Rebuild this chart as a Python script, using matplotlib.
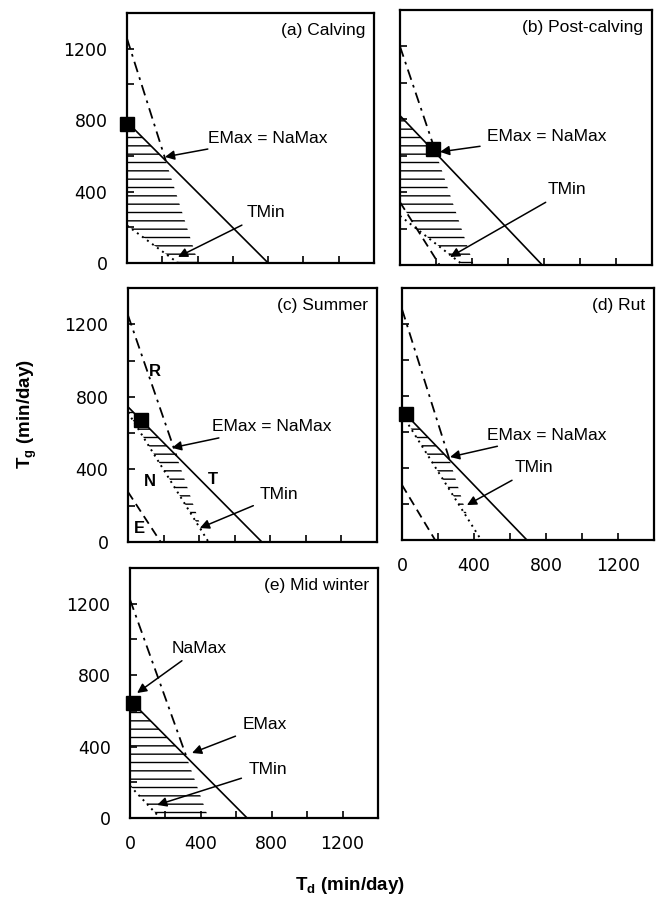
import numpy as np
import matplotlib
matplotlib.use("Agg")
import matplotlib.pyplot as plt

plt.rcParams['font.family'] = ['Liberation Sans', 'DejaVu Sans']
plt.rcParams['mathtext.fontset'] = 'custom'
plt.rcParams['mathtext.rm'] = 'Liberation Sans:bold'
plt.rcParams['mathtext.bf'] = 'Liberation Sans:bold'
plt.rcParams['hatch.linewidth'] = 1.0

# panel titles
titles = ['(a) Calving', '(b) Post-calving', '(c) Summer', '(d) Rut', '(e) Mid winter']

# constraint lines, given as (Tg intercept, Td intercept) in min/day
T_line = [(790, 800), (820, 790), (745, 753), (720, 694), (660, 661)]     # solid
R_line = [(1257, 404), (1200, 410), (1250, 440), (1283, 405), (1223, 443)]  # dash-dot
N_line = [(210, 290), (270, 350), (714, 453), (698, 440), (180, 170)]     # dotted
E_line = [None, (345, 220), (276, 184), (306, 184), None]                 # dashed

# NaMax square (Td, Tg)
sq_td = [0, 183, 75, 20, 15]
sq_tg = [780, 637, 670, 700, 645]

# annotations: text, text position, arrow tip
ann = [
    [("EMax = NaMax", (459, 700), (215, 594)), ("TMin", (680, 280), (289, 34))],
    [("EMax = NaMax", (483, 703), (222, 621)), ("TMin", (822, 412), (278, 44))],
    [("EMax = NaMax", (472, 635), (247, 519)), ("TMin", (742, 260), (404, 77))],
    [("EMax = NaMax", (472, 583), (267, 461)), ("TMin", (628, 400), (361, 194))],
    [("NaMax", (237, 952), (40, 700)), ("EMax", (633, 521), (350, 364)),
     ("TMin", (667, 269), (153, 73))],
]

# line letters in panel (c)
letters = ['R', 'N', 'T', 'E']
letter_td = [152, 124, 478, 67]
letter_tg = [939, 331, 342, 77]

rects = [
    [0.1930, 0.7110, 0.3754, 0.2747],
    [0.6079, 0.7088, 0.3830, 0.2802],
    [0.1945, 0.4044, 0.3784, 0.2791],
    [0.6109, 0.4066, 0.3830, 0.2769],
    [0.1976, 0.1011, 0.3769, 0.2747],
]
show_y = [True, False, True, False, True]
show_x = [False, False, False, True, True]


def x_of(line, y):
    yi, xi = line
    return xi * (1 - y / yi)


fig = plt.figure(figsize=(6.58, 9.10), dpi=100)

for i in range(5):
    ax = fig.add_axes(rects[i])
    ax.set_xlim(0, 1400)
    ax.set_ylim(0, 1400)

    ty, tx = T_line[i]
    ry, rx = R_line[i]
    # where R meets T
    A = np.array([[1 / tx, 1 / ty], [1 / rx, 1 / ry]])
    cx, cy = np.linalg.solve(A, [1, 1])

    # feasible region, hatched
    yy = np.linspace(0, ty, 400)
    right = np.minimum(x_of(T_line[i], yy), x_of(R_line[i], yy))
    left = np.maximum(0, x_of(N_line[i], yy))
    if E_line[i] is not None:
        left = np.maximum(left, x_of(E_line[i], yy))
    ax.fill_betweenx(yy, left, right, where=right > left, facecolor='none',
                     edgecolor='black', hatch='--', linewidth=0)

    ax.plot([0, tx], [ty, 0], color='black', lw=1.2)
    ax.plot([0, cx], [ry, cy], color='black', lw=1.3, linestyle=(0, (6, 3, 1.5, 3)))
    ny, nx = N_line[i]
    ax.plot([0, nx], [ny, 0], color='black', lw=1.4, linestyle=(0, (1, 2.2)))
    if E_line[i] is not None:
        ey, ex = E_line[i]
        ax.plot([0, ex], [ey, 0], color='black', lw=1.3, linestyle=(0, (5, 3)))

    ax.plot(sq_td[i], sq_tg[i], marker='s', color='black', markersize=10,
            clip_on=False, zorder=5)

    for txt, pos, tip in ann[i]:
        ax.annotate(txt, xy=tip, xytext=pos, fontsize=12.5, va='center', ha='left',
                    arrowprops=dict(arrowstyle='-|>', color='black', lw=1.1,
                                    mutation_scale=14, shrinkA=3, shrinkB=0))

    if i == 2:
        for L, lx, ly in zip(letters, letter_td, letter_tg):
            ax.text(lx, ly, L, fontsize=12, fontweight='bold', ha='center', va='center')

    ax.text(0.965, 0.93, titles[i], transform=ax.transAxes, fontsize=12.5,
            ha='right', va='center')

    ax.set_xticks([0, 400, 800, 1200])
    ax.set_yticks([0, 400, 800, 1200])
    ax.set_xticks([200, 600, 1000], minor=True)
    ax.set_yticks([200, 600, 1000], minor=True)
    ax.tick_params(which='both', direction='in', length=5, width=1.2)
    ax.tick_params(axis='x', pad=12, labelbottom=show_x[i])
    ax.tick_params(axis='y', pad=14, labelleft=show_y[i])
    for lab in ax.get_xticklabels() + ax.get_yticklabels():
        lab.set_fontfamily('DejaVu Sans')
        lab.set_fontsize(12.5)
    for sp in ax.spines.values():
        sp.set_linewidth(1.6)

fig.text(0.041, 0.545, r'T$_\mathregular{g}$ (min/day)', rotation=90, fontsize=13.5,
         fontweight='bold', ha='center', va='center')
fig.text(0.532, 0.027, r'T$_\mathregular{d}$ (min/day)', fontsize=13.5,
         fontweight='bold', ha='center', va='center')

fig.savefig('out.png', dpi=100)
